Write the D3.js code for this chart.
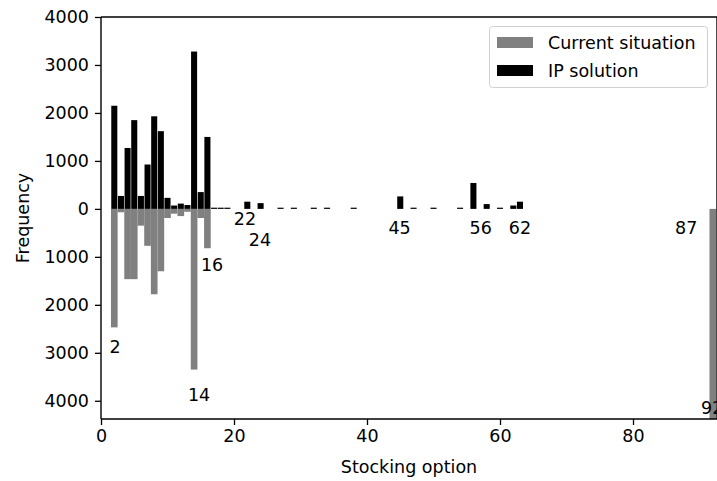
<!DOCTYPE html>
<html><head><meta charset="utf-8">
<script src="https://cdn.jsdelivr.net/npm/d3@7"></script>
<style>
body{margin:0;background:#fff;}
text{font-family:"DejaVu Sans",sans-serif;}
</style></head>
<body><svg id="c" width="717" height="481"></svg>
<script>
// IP solution (plotted upward)
const ipOptions = [2,3,4,5,6,7,8,9,10,11,12,13,14,15,16,17,18,19,22,24,27,29,32,34,38,45,47,50,54,56,58,60,62,63];
const ipValues  = [2150,270,1270,1850,270,925,1930,1620,230,70,110,80,3280,350,1500,25,25,25,150,120,25,25,25,25,25,260,25,25,25,540,100,25,70,150];
// Current situation (plotted downward)
const curOptions = [2,3,4,5,6,7,8,9,10,11,12,13,14,15,16,92];
const curValues  = [2470,70,1465,1465,350,770,1780,1300,190,100,150,60,3350,190,820,4400];
// annotations
const annTexts = ["2","14","16","22","24","45","56","62","87","92"];
const annX     = [2.1,14.74,16.7,21.65,23.9,44.9,57.1,63.0,88.0,91.9];
const annY     = [-2875,-3875,-1167,-208,-646,-396,-396,-396,-396,-4146];
const yTicks = [4000,3000,2000,1000,0,-1000,-2000,-3000,-4000];
const xTicks = [0,20,40,60,80];
const legendLabels = ["Current situation","IP solution"];
const colors = ["#808080","#000000"];

const FS = 17.5;
const L=101, R=717, T=17, B=419;
const svg = d3.select("#c");
const x = d3.scaleLinear().domain([0,92.63]).range([L,R]);
const y = d3.scaleLinear().domain([-4380,4000]).range([B,T]);
const w = x(1)-x(0);

svg.append("clipPath").attr("id","clp").append("rect")
  .attr("x",L).attr("y",T).attr("width",R-L).attr("height",B-T);
const g = svg.append("g").attr("clip-path","url(#clp)");

g.selectAll("rect.cur").data(curOptions).join("rect").attr("class","cur")
  .attr("x",(d)=>x(d-0.5)).attr("width",w)
  .attr("y",y(0)).attr("height",(d,i)=>y(-curValues[i])-y(0))
  .attr("fill",colors[0]);
g.selectAll("rect.ip").data(ipOptions).join("rect").attr("class","ip")
  .attr("x",(d)=>x(d-0.5)+0.3).attr("width",w-0.6)
  .attr("y",(d,i)=>y(ipValues[i])).attr("height",(d,i)=>y(0)-y(ipValues[i]))
  .attr("fill",colors[1]);

// annotations
svg.selectAll("text.ann").data(annTexts).join("text").attr("class","ann")
  .attr("x",(d,i)=>x(annX[i])).attr("y",(d,i)=>y(annY[i]))
  .attr("text-anchor","middle").attr("dominant-baseline","central")
  .attr("font-size",FS).attr("fill","#000").text(d=>d);

// axes
const fmt = d=>String(Math.abs(d));
const ya = svg.append("g").attr("transform",`translate(${L},0)`)
  .call(d3.axisLeft(y).tickValues(yTicks).tickFormat(fmt).tickSize(6).tickPadding(6));
const xa = svg.append("g").attr("transform",`translate(0,${B})`)
  .call(d3.axisBottom(x).tickValues(xTicks).tickSize(6).tickPadding(5));
[ya,xa].forEach(a=>{
  a.selectAll("text").attr("font-size",FS).attr("font-family","DejaVu Sans").attr("fill","#000");
  a.selectAll("line").attr("stroke","#000").attr("stroke-width",1.3);
  a.select(".domain").remove();
});
// spines
const sp = (x1,y1,x2,y2)=>svg.append("line").attr("x1",x1).attr("x2",x2).attr("y1",y1).attr("y2",y2)
  .attr("stroke","#000").attr("stroke-width",1.4);
sp(L,T,L,B); sp(L,B,R,B); sp(L,T,R,T); sp(R,T,R,B);

// axis labels
svg.append("text").attr("x",(L+R)/2).attr("y",467).attr("text-anchor","middle")
  .attr("dominant-baseline","central").attr("font-size",FS).attr("fill","#000").text("Stocking option");
svg.append("text").attr("transform",`translate(23,${(T+B)/2}) rotate(-90)`).attr("text-anchor","middle")
  .attr("dominant-baseline","central").attr("font-size",FS).attr("fill","#000").text("Frequency");

// legend
const lg = svg.append("g");
lg.append("rect").attr("x",489.5).attr("y",26.5).attr("width",218).attr("height",61).attr("rx",3)
  .attr("fill","#fff").attr("fill-opacity",0.8).attr("stroke","#d0d0d0");
legendLabels.forEach((t,i)=>{
  lg.append("rect").attr("x",497).attr("y",37+i*28).attr("width",36).attr("height",11).attr("fill",colors[i]);
  lg.append("text").attr("x",548).attr("y",43+i*28).attr("dominant-baseline","central")
    .attr("font-size",FS).attr("fill","#000").text(t);
});
</script></body></html>
